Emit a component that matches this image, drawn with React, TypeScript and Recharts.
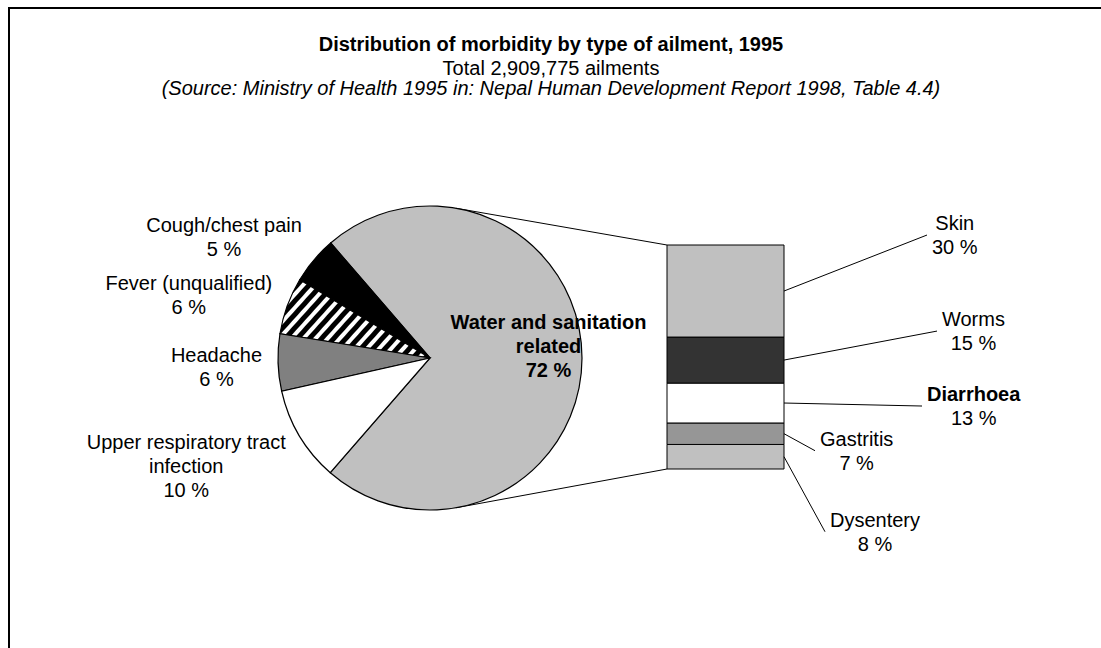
import React from "react"
import { PieChart, Pie, Cell, BarChart, Bar, XAxis, YAxis } from "recharts"

// main pie
const pieNames = [
    "Water and sanitation related",
    "Cough/chest pain",
    "Fever (unqualified)",
    "Headache",
    "Upper respiratory tract infection",
]
const pieValues = [72, 5, 6, 6, 10]

// breakdown of the water & sanitation slice (top to bottom)
const barNames = ["Skin", "Worms", "Diarrhoea", "Gastritis", "Dysentery"]
const barValues = [30, 15, 13, 7, 8]

const titleLines = [
    "Distribution of morbidity by type of ailment, 1995",
    "Total 2,909,775 ailments",
    "(Source: Ministry of Health 1995 in: Nepal Human Development Report 1998, Table 4.4)",
]

const pieData = pieNames.map((name, i) => ({ name, value: pieValues[i] }))
const barRow: Record<string, string | number> = { name: pieNames[0] }
barNames.forEach((n, i) => (barRow[n] = barValues[i]))
const barTotal = barValues.reduce((a, b) => a + b, 0)

// styling / layout
const FONT = '"Liberation Sans", Arial, Helvetica, sans-serif'
const FS = 20
const LH = 24
const pieFills = ["#c0c0c0", "#000000", "url(#stripes)", "#808080", "#ffffff"]
const barFills = ["#c0c0c0", "#333333", "#ffffff", "#969696", "#c0c0c0"]
const boldBar = "Diarrhoea"
// callout end point relative to right-middle of each segment
const calloutOffsets = [
    [143, -56],
    [153, -29],
    [138, 3],
    [31, 17],
    [41, 75],
]

const PIE_CX = 430
const PIE_CY = 358
const PIE_R = 152
const BAR_LEFT = 600
const BAR_TOP = 180
const BAR_W = 501
const BAR_H = 420
const BOX = { x: 667, y: 245, w: 117, h: 224 }

let ctx: CanvasRenderingContext2D | null = null
function measure(text: string, bold = false) {
    if (!ctx) ctx = document.createElement("canvas").getContext("2d")
    if (!ctx) return text.length * FS * 0.5
    ctx.font = `${bold ? "bold " : ""}${FS}px ${FONT}`
    return ctx.measureText(text).width
}

function wrap(text: string, maxW: number, bold = false) {
    const out: string[] = []
    let cur = ""
    for (const w of text.split(" ")) {
        const t = cur ? cur + " " + w : w
        if (cur && measure(t, bold) > maxW) {
            out.push(cur)
            cur = w
        } else cur = t
    }
    if (cur) out.push(cur)
    return out
}

const RAD = Math.PI / 180

const renderPieLabel = (p: any) => {
    const { cx, cy, midAngle, outerRadius, index } = p
    const inside = index === 0
    const lines = [...wrap(pieNames[index], 230, inside), `${pieValues[index]} %`]
    const h = lines.length * LH
    let mx: number, my: number
    if (inside) {
        mx = cx + outerRadius * 0.78 * Math.cos(-midAngle * RAD)
        my = cy + outerRadius * 0.78 * Math.sin(-midAngle * RAD) - 12
    } else {
        const w = Math.max(...lines.map((l) => measure(l)))
        const c = Math.cos(midAngle * RAD)
        const px = cx + (outerRadius + 16) * c
        const py = cy - (outerRadius + 16) * Math.sin(midAngle * RAD)
        mx = px + (w / 2) * Math.sign(c) * Math.min(1, Math.abs(c) * 1.3)
        my = py - (h / 2) * Math.sin(midAngle * RAD) + 3
    }
    return (
        <g key={`pl-${index}`}>
            {lines.map((l, k) => (
                <text
                    key={k}
                    x={mx}
                    y={my - h / 2 + LH / 2 + k * LH}
                    textAnchor="middle"
                    dominantBaseline="central"
                    fontFamily={FONT}
                    fontSize={FS}
                    fontWeight={inside ? "bold" : "normal"}
                    fill="#000"
                >
                    {l}
                </text>
            ))}
        </g>
    )
}

const makeCallout = (i: number) => (p: any) => {
    const vb = p.viewBox ?? p
    const { x, y, width, height } = vb
    const sx = x + width
    const sy = y + height / 2
    const ex = sx + calloutOffsets[i][0]
    const ey = sy + calloutOffsets[i][1]
    const bold = barNames[i] === boldBar
    const lines = [barNames[i], `${barValues[i]} %`]
    const w = Math.max(...lines.map((l, k) => measure(l, bold && k === 0)))
    const tx = ex + 5 + w / 2
    const h = lines.length * LH
    return (
        <g key={`cl-${i}`}>
            <line x1={sx} y1={sy} x2={ex} y2={ey} stroke="#000" strokeWidth={1} />
            {lines.map((l, k) => (
                <text
                    key={k}
                    x={tx}
                    y={ey - h / 2 + LH / 2 + k * LH}
                    textAnchor="middle"
                    dominantBaseline="central"
                    fontFamily={FONT}
                    fontSize={FS}
                    fontWeight={bold && k === 0 ? "bold" : "normal"}
                    fill="#000"
                >
                    {l}
                </text>
            ))}
        </g>
    )
}

export default function App() {
    const a = 80 * RAD
    const top = { x: PIE_CX + PIE_R * Math.cos(a), y: PIE_CY - PIE_R * Math.sin(a) }
    const bot = { x: PIE_CX + PIE_R * Math.cos(a), y: PIE_CY + PIE_R * Math.sin(a) }

    return (
        <div style={{ position: "relative", width: 1101, height: 648, overflow: "hidden", background: "#fff" }}>
            <style>{`body{margin:0}`}</style>
            <div
                style={{
                    position: "absolute",
                    left: 8,
                    top: 7,
                    right: -20,
                    bottom: -20,
                    borderTop: "2px solid #000",
                    borderLeft: "2px solid #000",
                }}
            />
            <svg width={1101} height={648} style={{ position: "absolute", left: 0, top: 0 }}>
                <line x1={top.x} y1={top.y} x2={BOX.x} y2={BOX.y} stroke="#000" strokeWidth={1} />
                <line x1={bot.x} y1={bot.y} x2={BOX.x} y2={BOX.y + BOX.h} stroke="#000" strokeWidth={1} />
                {titleLines.map((t, i) => (
                    <text
                        key={i}
                        x={551}
                        y={[51, 75, 95][i]}
                        textAnchor="middle"
                        fontFamily={FONT}
                        fontSize={FS}
                        fontWeight={i === 0 ? "bold" : "normal"}
                        fontStyle={i === 2 ? "italic" : "normal"}
                        fill="#000"
                    >
                        {t}
                    </text>
                ))}
            </svg>
            <div style={{ position: "absolute", left: 0, top: 0 }}>
                <PieChart width={1101} height={648} margin={{ top: 0, right: 0, bottom: 0, left: 0 }}>
                    <defs>
                        <pattern id="stripes" width="9" height="9" patternUnits="userSpaceOnUse" patternTransform="rotate(42)">
                            <rect width="9" height="9" fill="#000" />
                            <rect width="4" height="9" fill="#fff" />
                        </pattern>
                    </defs>
                    <Pie
                        data={pieData}
                        dataKey="value"
                        nameKey="name"
                        cx={PIE_CX}
                        cy={PIE_CY}
                        outerRadius={PIE_R}
                        startAngle={-131}
                        endAngle={229}
                        stroke="#000"
                        strokeWidth={1.2}
                        label={renderPieLabel}
                        labelLine={false}
                        isAnimationActive={false}
                    >
                        {pieData.map((d, i) => (
                            <Cell key={d.name} fill={pieFills[i]} />
                        ))}
                    </Pie>
                </PieChart>
            </div>
            <div style={{ position: "absolute", left: BAR_LEFT, top: BAR_TOP }}>
                <BarChart
                    width={BAR_W}
                    height={BAR_H}
                    data={[barRow]}
                    barCategoryGap={0}
                    margin={{
                        top: BOX.y - BAR_TOP,
                        left: BOX.x - BAR_LEFT,
                        right: BAR_W - (BOX.x - BAR_LEFT) - BOX.w,
                        bottom: BAR_H - (BOX.y - BAR_TOP) - BOX.h,
                    }}
                >
                    <XAxis dataKey="name" hide />
                    <YAxis type="number" domain={[0, barTotal]} hide />
                    {barNames
                        .map((n, i) => (
                            <Bar
                                key={n}
                                dataKey={n}
                                stackId="w"
                                fill={barFills[i]}
                                stroke="#000"
                                strokeWidth={1}
                                label={makeCallout(i)}
                                isAnimationActive={false}
                            />
                        ))
                        .reverse()}
                </BarChart>
            </div>
        </div>
    )
}
